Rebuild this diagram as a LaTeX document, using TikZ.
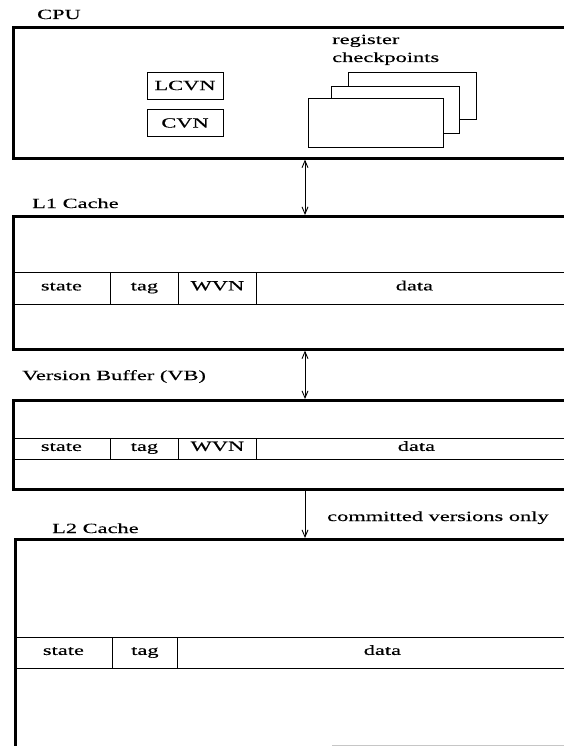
\documentclass[tikz,border=0pt]{standalone}
\usepackage{fontspec}
\setmainfont{Liberation Serif}[FakeStretch=1.6,FakeBold=0.35]
\usetikzlibrary{arrows.meta}
\begin{document}
\begin{tikzpicture}[x=1pt,y=-1pt,
  fnt/.style={font=\fontsize{14}{16}\selectfont},
  outer/.style={draw, line width=2.6pt, inner sep=0pt, anchor=north west},
  cell/.style={draw, line width=0.8pt, fill=white, inner sep=0pt, anchor=north west, fnt, text height=8pt, text depth=4pt},
  smallbox/.style={draw, line width=0.8pt, fill=white, inner sep=0pt, fnt, minimum width=76pt, minimum height=27pt},
  ckpt/.style={draw, line width=0.8pt, fill=white, inner sep=0pt, anchor=north west},
  lbl/.style={fnt, inner sep=0pt, anchor=base west},
  conn/.style={line width=0.9pt},
  tip/.tip={Straight Barb[length=7pt,width=6pt,line width=0.9pt]}
]
\useasboundingbox (0,0) rectangle (564,746);
\clip (0,0) rectangle (564,746);

% ---------- CPU ----------
\node[lbl] (cpulbl) at (37,19) {CPU};
\node[outer, minimum width=600pt, minimum height=131pt] (cpu) at (12,26) {};
\node[smallbox] (lcvn) at (185,85.5) {LCVN};
\node[smallbox] (cvn) at (185,123) {CVN};
\node[lbl] (reg1) at (332,44) {register};
\node[lbl] (reg2) at (332,62) {checkpoints};
\node[ckpt, minimum width=128pt, minimum height=47pt] (ck3) at (348,72) {};
\node[ckpt, minimum width=128pt, minimum height=47pt] (ck2) at (331,86) {};
\node[ckpt, minimum width=135pt, minimum height=49pt] (ck1) at (308,98) {};

% ---------- L1 cache ----------
\node[lbl] (l1lbl) at (32,208) {L1 Cache};
\node[cell, minimum width=98pt, minimum height=32pt] (l1s) at (12,272) {state};
\node[cell, minimum width=68pt, minimum height=32pt] (l1t) at (110,272) {tag};
\node[cell, minimum width=78pt, minimum height=32pt] (l1w) at (178,272) {WVN};
\node[cell, minimum width=316pt, minimum height=32pt] (l1d) at (256,272) {data};
\node[outer, minimum width=600pt, minimum height=133pt] (l1) at (12,215) {};

% ---------- Version buffer ----------
\node[lbl] (vblbl) at (22,380) {Version Buffer (VB)};
\node[cell, minimum width=98pt, minimum height=21pt] (vbs) at (12,438) {state};
\node[cell, minimum width=68pt, minimum height=21pt] (vbt) at (110,438) {tag};
\node[cell, minimum width=78pt, minimum height=21pt] (vbw) at (178,438) {WVN};
\node[cell, minimum width=320pt, minimum height=21pt] (vbd) at (256,438) {data};
\node[outer, minimum width=600pt, minimum height=89pt] (vb) at (12,399) {};

% ---------- L2 cache ----------
\node[lbl] (l2lbl) at (52,533) {L2 Cache};
\node[cell, minimum width=98pt, minimum height=31pt] (l2s) at (14,637) {state};
\node[cell, minimum width=65pt, minimum height=31pt] (l2t) at (112,637) {tag};
\node[cell, minimum width=410pt, minimum height=31pt] (l2d) at (177,637) {data};
\node[outer, minimum width=600pt, minimum height=240pt] (l2) at (14,538) {};
\coordinate (l2edge) at (332,745);
\coordinate (l2edgeR) at (564,745);
\draw[gray!45, line width=0.8pt] (l2edge) -- (l2edgeR);

% ---------- connectors ----------
\coordinate (ax) at (305,0);
\draw[conn, tip-tip] (cpu.south -| ax) -- (l1.north -| ax);
\draw[conn, tip-tip] (l1.south -| ax) -- (vb.north -| ax);
\draw[conn, -tip] (vb.south -| ax) -- (l2.north -| ax);
\node[lbl] (commit) at (327,521) {committed versions only};
\end{tikzpicture}
\end{document}
